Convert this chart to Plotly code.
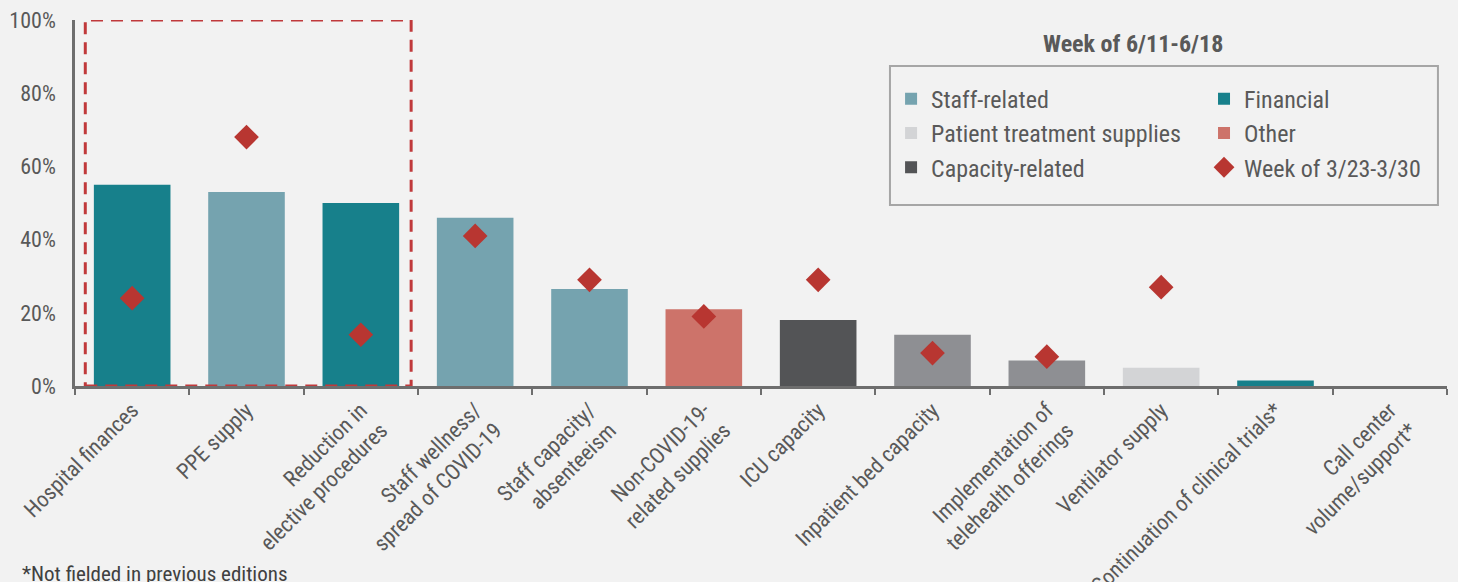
import plotly.graph_objects as go

categories = [
    "Hospital finances", "PPE supply", "Reduction in<br>elective procedures",
    "Staff wellness/<br>spread of COVID-19", "Staff capacity/<br>absenteeism",
    "Non-COVID-19-<br>related supplies", "ICU capacity", "Inpatient bed capacity",
    "Implementation of<br>telehealth offerings", "Ventilator supply",
    "Continuation of clinical trials*", "Call center<br>volume/support*",
]
current_week = [0.55, 0.53, 0.50, 0.46, 0.265, 0.21, 0.18, 0.14, 0.07, 0.05, 0.015, 0.0]
prior_week = [0.24, 0.68, 0.14, 0.41, 0.29, 0.19, 0.29, 0.09, 0.08, 0.27, None, None]
bar_group = ["Financial", "Staff-related", "Financial", "Staff-related", "Staff-related",
             "Other", "Capacity-related", "Unlabeled", "Unlabeled",
             "Patient treatment supplies", "Financial", "Financial"]

group_colors = {
    "Staff-related": "#75A3AF",
    "Financial": "#17808B",
    "Patient treatment supplies": "#D3D4D6",
    "Other": "#CD736A",
    "Capacity-related": "#535456",
    "Unlabeled": "#8E8F93",
}
legend_of = {
    "Staff-related": "legend", "Patient treatment supplies": "legend",
    "Capacity-related": "legend", "Financial": "legend2", "Other": "legend2",
}

FONT = "Liberation Sans Narrow, Roboto Condensed, Roboto, sans-serif"
TXT = "#595959"

fig = go.Figure()
order = ["Staff-related", "Patient treatment supplies", "Capacity-related",
         "Financial", "Other", "Unlabeled"]
for rank, g in enumerate(order):
    xs = [c for c, gg in zip(categories, bar_group) if gg == g]
    ys = [v for v, gg in zip(current_week, bar_group) if gg == g]
    fig.add_trace(go.Bar(
        x=xs, y=ys, name=g, marker=dict(color=group_colors[g], line=dict(width=0)),
        showlegend=(g != "Unlabeled"), legend=legend_of.get(g, "legend"),
        legendrank=rank,
    ))

fig.add_trace(go.Scatter(
    x=categories, y=prior_week, mode="markers", name="Week of 3/23-3/30",
    marker=dict(symbol="diamond", size=19, color="#B83631"),
    legend="legend2", legendrank=10,
))

fig.add_shape(type="rect", xref="x", yref="y", x0=-0.41, x1=2.44, y0=0, y1=1.0,
              line=dict(color="#C0393B", width=3, dash="12px,8px"))

# legend border
fig.add_shape(type="rect", xref="paper", yref="paper", x0=0.594, x1=0.9934,
              y0=0.4945, y1=0.8743, line=dict(color="#A6A6A6", width=2))

fig.add_annotation(text="<b>Week of 6/11-6/18</b>", xref="paper", yref="paper",
                   x=0.7711, y=0.9345, xanchor="center", yanchor="middle", showarrow=False,
                   font=dict(family=FONT, size=24, color=TXT))
fig.add_annotation(text="*Not fielded in previous editions", xref="paper", yref="paper",
                   x=-0.04, y=-0.476, xanchor="left", yanchor="top", showarrow=False,
                   font=dict(family=FONT, size=21, color="#404040"))

legend_common = dict(orientation="v", bgcolor="rgba(0,0,0,0)", borderwidth=0,
                     font=dict(family=FONT, size=24, color=TXT),
                     xanchor="left", yanchor="top", traceorder="normal")
fig.update_layout(
    width=1458, height=582,
    paper_bgcolor="#F2F2F2", plot_bgcolor="#F2F2F2",
    margin=dict(l=75, r=11, t=20, b=196),
    barmode="overlay", bargap=0.33,
    font=dict(family=FONT, size=22, color=TXT),
    legend=dict(x=0.5948, y=0.845, **legend_common),
    legend2=dict(x=0.8229, y=0.845, **legend_common),
    xaxis=dict(
        automargin=False,
        showline=True, linecolor="#6E6E6E", linewidth=2.5,
        ticks="outside", tickson="boundaries", ticklen=6, tickcolor="#6E6E6E",
        tickwidth=2, tickangle=-45, showgrid=False,
        tickfont=dict(family=FONT, size=22, color=TXT),
        categoryorder="array", categoryarray=categories,
        range=[-0.5, 11.5],
    ),
    yaxis=dict(
        automargin=False,
        range=[0, 1.0], dtick=0.2, tickformat=".0%", showgrid=False, zeroline=False,
        showline=True, linecolor="#6E6E6E", linewidth=2.5, ticks="",
        ticklabelstandoff=12,
        tickfont=dict(family=FONT, size=22, color=TXT),
    ),
)

fig.write_html("out.html", config={"displayModeBar": False},
               post_script="document.body.style.margin='0';")
